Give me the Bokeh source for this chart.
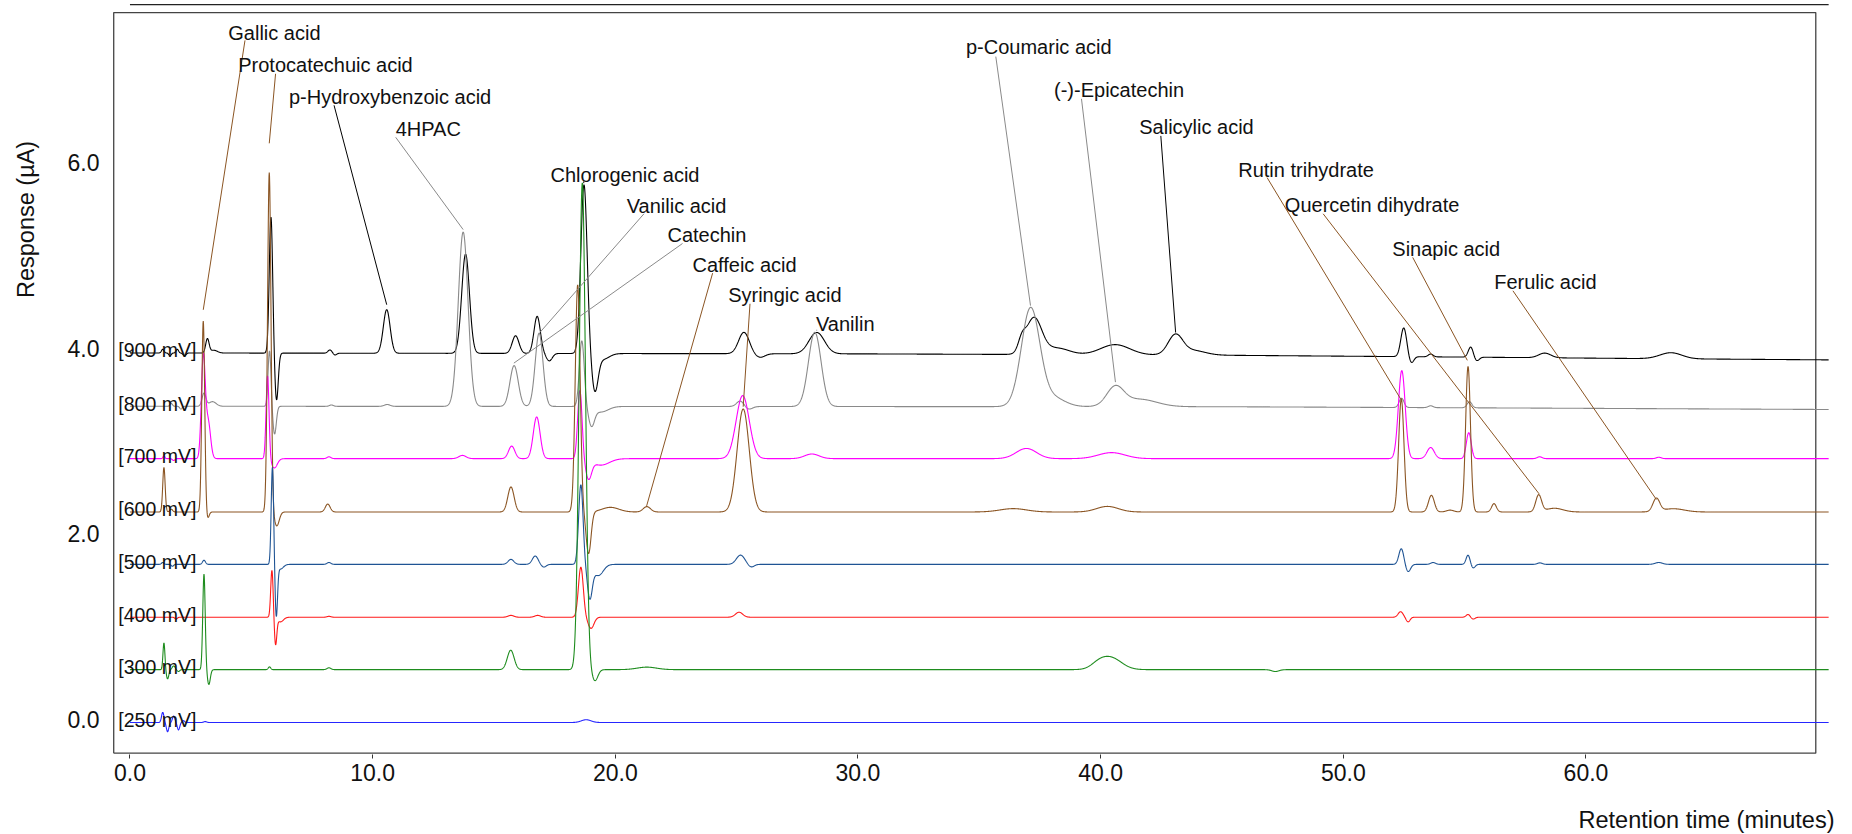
import numpy as np
from bokeh.plotting import figure
from bokeh.layouts import row, column
from bokeh.models import Range1d, FixedTicker, NumeralTickFormatter, ColumnDataSource
from bokeh.core.properties import value
from bokeh.embed import file_html
from bokeh.resources import INLINE

FONT = "Liberation Sans"

# ---------------- data ----------------
VOLTAGE_LABELS = ["[900 mV]", "[800 mV]", "[700 mV]", "[600 mV]",
                  "[500 mV]", "[400 mV]", "[300 mV]", "[250 mV]"]
TRACE_COLORS = ["#000000", "#8a8a8a", "#ff00ff", "#8b5523",
                "#1f5494", "#ff1a1a", "#1e8c1e", "#2626ff"]

# baseline level of each trace (time knots, response)
BASE_900 = ([0, 30, 45, 55, 62, 70], [3.95, 3.94, 3.925, 3.905, 3.89, 3.875])
BASE_800 = ([0, 45, 58, 70], [3.375, 3.37, 3.355, 3.34])
BASE_700 = ([0, 70], [2.81, 2.81])
BASE_600 = ([0, 70], [2.235, 2.235])
BASE_500 = ([0, 70], [1.67, 1.67])
BASE_400 = ([0, 70], [1.10, 1.10])
BASE_300 = ([0, 70], [0.535, 0.535])
BASE_250 = ([0, 70], [-0.035, -0.035])

# peaks: (retention time [min], height above baseline [uA], width sigma [min])
PEAKS_900 = [
    (1.35, 0.04, 0.05), (1.65, -0.03, 0.05), (1.95, 0.04, 0.05), (2.25, -0.03, 0.06),
    (3.19, 0.15, 0.07), (3.45, 0.03, 0.15),
    (5.81, 1.47, 0.07), (6.04, -0.51, 0.07),
    (8.24, 0.035, 0.08), (8.45, -0.02, 0.07),
    (10.58, 0.47, 0.14),
    (13.83, 1.07, 0.16),
    (15.89, 0.19, 0.14),
    (16.78, 0.40, 0.13), (17.28, -0.08, 0.12),
    (18.71, 1.82, 0.13), (19.16, -0.39, 0.13), (19.5, -0.06, 0.25),
    (25.3, 0.23, 0.22), (25.96, -0.04, 0.2),
    (28.3, 0.23, 0.32),
    (36.75, 0.12, 0.15), (37.25, 0.39, 0.32), (38.2, 0.07, 0.5),
    (40.6, 0.11, 0.6),
    (43.08, 0.21, 0.3), (43.8, 0.05, 0.5),
    (52.49, 0.31, 0.12), (52.8, -0.07, 0.1),
    (53.6, 0.03, 0.1),
    (55.25, 0.11, 0.1), (55.5, -0.04, 0.1),
    (58.3, 0.05, 0.25),
    (63.5, 0.065, 0.45),
]
PEAKS_800 = [
    (1.7, 0.03, 0.05), (2.1, -0.03, 0.05),
    (3.05, 0.14, 0.08), (3.4, 0.05, 0.15),
    (5.75, 0.6, 0.06), (5.96, -0.3, 0.07),
    (8.3, 0.015, 0.08), (10.6, 0.02, 0.12),
    (13.73, 1.88, 0.2),
    (15.83, 0.44, 0.17),
    (16.86, 0.79, 0.16),
    (18.62, 0.71, 0.1), (19.02, -0.19, 0.12), (19.4, -0.06, 0.3),
    (25.15, 0.06, 0.15), (25.5, -0.03, 0.15),
    (28.22, 0.80, 0.26),
    (37.11, 1.05, 0.38), (38.0, 0.1, 0.5),
    (40.6, 0.2, 0.35), (41.6, 0.08, 0.7),
    (52.4, 0.1, 0.1), (53.6, 0.02, 0.1), (55.2, 0.065, 0.1),
]
PEAKS_700 = [
    (1.4, 0.03, 0.04), (1.8, -0.02, 0.05),
    (3.02, 1.08, 0.08), (3.22, 0.4, 0.1),
    (5.67, 0.9, 0.06), (5.95, -0.1, 0.12),
    (8.2, 0.02, 0.08),
    (13.7, 0.035, 0.15),
    (15.73, 0.135, 0.13),
    (16.76, 0.45, 0.14),
    (18.54, 0.74, 0.09), (18.9, -0.2, 0.12), (19.4, -0.07, 0.35),
    (25.25, 0.68, 0.27),
    (28.1, 0.05, 0.3),
    (36.94, 0.11, 0.42),
    (40.45, 0.065, 0.55),
    (52.41, 0.95, 0.14),
    (53.6, 0.12, 0.15),
    (55.17, 0.28, 0.1),
    (58.09, 0.02, 0.1), (63.0, 0.015, 0.1),
]
PEAKS_600 = [
    (1.4, 0.48, 0.05), (1.7, 0.03, 0.06),
    (3.02, 2.06, 0.06), (3.2, -0.07, 0.06),
    (5.74, 3.66, 0.07), (6.05, -0.15, 0.1),
    (8.15, 0.085, 0.1),
    (15.7, 0.27, 0.13),
    (18.45, 2.45, 0.1), (18.9, -0.45, 0.1), (19.8, 0.05, 0.35),
    (21.3, 0.058, 0.15),
    (25.27, 1.11, 0.25),
    (36.4, 0.036, 0.55), (40.28, 0.06, 0.45),
    (52.39, 1.22, 0.11),
    (53.63, 0.18, 0.12),
    (54.4, 0.02, 0.15),
    (55.14, 1.57, 0.1),
    (56.21, 0.09, 0.1),
    (58.05, 0.18, 0.12), (58.7, 0.04, 0.35),
    (62.9, 0.14, 0.14), (63.6, 0.035, 0.45),
]
PEAKS_500 = [
    (1.35, 0.02, 0.05), (1.75, -0.02, 0.05),
    (3.05, 0.045, 0.06),
    (5.87, 1.05, 0.05), (6.03, -0.55, 0.05), (6.2, -0.05, 0.12),
    (8.2, 0.02, 0.08),
    (15.7, 0.054, 0.12),
    (16.7, 0.09, 0.12), (17.05, -0.03, 0.1),
    (18.58, 0.86, 0.09), (18.95, -0.35, 0.1), (19.3, -0.12, 0.2),
    (25.16, 0.10, 0.17), (25.6, -0.03, 0.12),
    (52.39, 0.17, 0.1), (52.67, -0.08, 0.1),
    (53.7, 0.02, 0.1),
    (55.14, 0.10, 0.08), (55.35, -0.04, 0.08),
    (58.1, 0.016, 0.1), (63.0, 0.02, 0.15),
]
PEAKS_400 = [
    (1.9, -0.02, 0.05),
    (5.85, 0.51, 0.05), (6.0, -0.29, 0.05), (6.2, -0.05, 0.12),
    (8.2, 0.01, 0.08),
    (15.7, 0.02, 0.12), (16.8, 0.02, 0.12),
    (18.58, 0.54, 0.1), (19.0, -0.12, 0.12),
    (25.1, 0.054, 0.15),
    (52.36, 0.06, 0.1), (52.67, -0.05, 0.08),
    (55.14, 0.03, 0.08), (55.35, -0.02, 0.08),
]
PEAKS_300 = [
    (1.4, 0.29, 0.04), (1.55, -0.1, 0.05), (1.8, 0.04, 0.06), (2.0, -0.02, 0.05),
    (3.05, 1.03, 0.05), (3.25, -0.16, 0.06),
    (5.75, 0.03, 0.05),
    (8.2, 0.02, 0.08),
    (15.69, 0.21, 0.14),
    (18.64, 5.25, 0.13), (19.16, -0.12, 0.12),
    (21.3, 0.027, 0.4),
    (39.9, 0.04, 0.3), (40.4, 0.13, 0.45),
    (47.2, -0.02, 0.15),
]
PEAKS_250 = [
    (1.35, 0.11, 0.05), (1.55, -0.1, 0.05), (1.8, 0.07, 0.05), (2.0, -0.08, 0.05),
    (2.2, 0.02, 0.05),
    (3.1, 0.01, 0.06),
    (18.8, 0.03, 0.2),
]

TRACE_BASES = [BASE_900, BASE_800, BASE_700, BASE_600, BASE_500, BASE_400, BASE_300, BASE_250]
TRACE_PEAKS = [PEAKS_900, PEAKS_800, PEAKS_700, PEAKS_600, PEAKS_500, PEAKS_400, PEAKS_300, PEAKS_250]

# compound annotations
COMPOUNDS = ["Gallic acid", "Protocatechuic acid", "p-Hydroxybenzoic acid", "4HPAC",
             "Chlorogenic acid", "Vanilic acid", "Catechin", "Caffeic acid",
             "Syringic acid", "Vanilin", "p-Coumaric acid", "(-)-Epicatechin",
             "Salicylic acid", "Rutin trihydrate", "Quercetin dihydrate",
             "Sinapic acid", "Ferulic acid"]
LABEL_X = [4.05, 4.46, 6.55, 10.95, 17.33, 20.47, 22.15, 23.18, 24.65, 28.27,
           34.45, 38.08, 41.59, 45.67, 47.59, 52.02, 56.22]
LABEL_Y = [7.40, 7.05, 6.71, 6.365, 5.87, 5.535, 5.22, 4.90, 4.57, 4.26,
           7.245, 6.785, 6.39, 5.92, 5.54, 5.07, 4.72]
LEADER_X0 = [4.74, 6.00, 8.41, 10.95, 18.70, 21.18, 22.77, 24.01, 25.55, 28.30,
             35.68, 39.21, 42.48, 46.86, 49.17, 52.86, 56.99]
LEADER_Y0 = [7.32, 6.96, 6.62, 6.275, 5.80, 5.45, 5.13, 4.81, 4.48, 4.20,
             7.145, 6.69, 6.29, 5.84, 5.45, 4.98, 4.62]
LEADER_X1 = [3.02, 5.74, 10.58, 13.73, 18.70, 16.89, 15.82, 21.29, 25.27, 28.30,
             37.11, 40.61, 43.09, 52.36, 58.07, 55.11, 62.90]
LEADER_Y1 = [4.415, 6.21, 4.47, 5.28, 5.78, 4.17, 3.84, 2.30, 3.37, 4.19,
             4.46, 3.635, 4.17, 3.455, 2.43, 3.87, 2.37]
LEADER_TRACE = [3, 3, 0, 1, 0, 1, 1, 3, 3, 1, 1, 1, 0, 3, 3, 3, 3]

X_TICKS = [0, 10, 20, 30, 40, 50, 60]
Y_TICKS = [0, 2, 4, 6]
X_TITLE = "Retention time (minutes)"
Y_TITLE = "Response (µA)"

# frame / layout constants (data units)
X_VIEW = (-0.72, 70.2)
Y_VIEW = (-0.38, 7.75)
BOX_X = (-0.67, 69.47)
BOX_Y = (-0.366, 7.62)
TOP_RULE_Y = 7.705
TOP_RULE_X = (0, 70)
TIME_SPAN = (0, 70)

# page layout (pixels)
PAGE_W = 1852
LEFT_W = 60            # strip holding the y title
FRAME_W, FRAME_H = 1721, 754
BORDER_BOTTOM = 45
MAIN_H = FRAME_H + BORDER_BOTTOM
STRIP_H = 35           # strip holding the x title
Y_TITLE_PX = (25.7, MAIN_H - 232.0)
X_TITLE_PX = (1834.0, STRIP_H - 20.0)

# ---------------- build ----------------
t = np.linspace(TIME_SPAN[0], TIME_SPAN[1], 7001)


def trace(base, peaks):
    y = np.interp(t, base[0], base[1])
    for (t0, h, s) in peaks:
        y = y + h * np.exp(-0.5 * ((t - t0) / s) ** 2)
    return y


def strip(w, h):
    f = figure(width=w, height=h, x_range=Range1d(0, w), y_range=Range1d(0, h),
               x_axis_type=None, y_axis_type=None, output_backend="svg",
               toolbar_location=None, min_border=0)
    f.outline_line_color = None
    f.xgrid.visible = False
    f.ygrid.visible = False
    return f


# strip with the vertical axis title
side = strip(LEFT_W, MAIN_H)
side.text(x=[Y_TITLE_PX[0]], y=[Y_TITLE_PX[1]], text=[Y_TITLE], angle=np.pi / 2,
          text_font=value(FONT), text_font_size=value("23.5px"), text_align="center",
          text_baseline="middle", text_color="#111111")

# strip with the horizontal axis title
bottom = strip(PAGE_W, STRIP_H)
bottom.text(x=[X_TITLE_PX[0]], y=[X_TITLE_PX[1]], text=[X_TITLE],
            text_font=value(FONT), text_font_size=value("23.5px"), text_align="right",
            text_baseline="middle", text_color="#111111")

p = figure(frame_width=FRAME_W, frame_height=FRAME_H,
           x_range=Range1d(*X_VIEW), y_range=Range1d(*Y_VIEW),
           output_backend="svg", toolbar_location=None,
           min_border_left=112 - LEFT_W, min_border_right=PAGE_W - 112 - FRAME_W,
           min_border_top=0, min_border_bottom=BORDER_BOTTOM)
p.outline_line_color = None
p.xgrid.visible = False
p.ygrid.visible = False
p.background_fill_color = "white"
p.border_fill_color = "white"

for ax in (p.xaxis[0], p.yaxis[0]):
    ax.axis_line_color = None
    ax.minor_tick_line_color = None
    ax.major_label_text_font = FONT
    ax.major_label_text_font_size = "23px"
    ax.major_label_text_color = "#111111"
    ax.formatter = NumeralTickFormatter(format="0.0")

p.xaxis.ticker = FixedTicker(ticks=X_TICKS)
p.xaxis.major_tick_out = 4
p.xaxis.major_tick_in = 0
p.xaxis.major_tick_line_color = "#333333"
p.xaxis.major_label_standoff = 5

p.yaxis.ticker = FixedTicker(ticks=Y_TICKS)
p.yaxis.major_tick_out = 0
p.yaxis.major_tick_in = 0
p.yaxis.major_tick_line_color = None
p.yaxis.major_label_standoff = 13

# frame box and top rule
p.line(x=[BOX_X[0], BOX_X[1], BOX_X[1], BOX_X[0], BOX_X[0]],
       y=[BOX_Y[0], BOX_Y[0], BOX_Y[1], BOX_Y[1], BOX_Y[0]],
       line_color="#444444", line_width=1.3)
p.line(x=list(TOP_RULE_X), y=[TOP_RULE_Y, TOP_RULE_Y], line_color="#222222", line_width=1.2)

# traces
base_levels = []
for base, peaks, col in zip(TRACE_BASES, TRACE_PEAKS, TRACE_COLORS):
    y = trace(base, peaks)
    base_levels.append(base[1][0])
    p.line(x=t, y=y, line_color=col, line_width=1.1)

# voltage labels
p.text(x=[-0.48] * len(VOLTAGE_LABELS), y=[b + 0.027 for b in base_levels],
       text=VOLTAGE_LABELS, text_font=value(FONT), text_font_size=value("19.5px"),
       text_baseline="alphabetic", text_align="left", text_color="#111111")

# leaders
src = ColumnDataSource(dict(x0=LEADER_X0, y0=LEADER_Y0, x1=LEADER_X1, y1=LEADER_Y1,
                            c=[TRACE_COLORS[i] for i in LEADER_TRACE]))
p.segment(x0="x0", y0="y0", x1="x1", y1="y1", line_color="c", line_width=1.0, source=src)

# compound names
p.text(x=LABEL_X, y=LABEL_Y, text=COMPOUNDS, text_font=value(FONT),
       text_font_size=value("20px"), text_baseline="middle", text_align="left",
       text_color="#111111")

layout = column(row(side, p, spacing=0), bottom, spacing=0)
open("out.html", "w").write(file_html(layout, INLINE))
